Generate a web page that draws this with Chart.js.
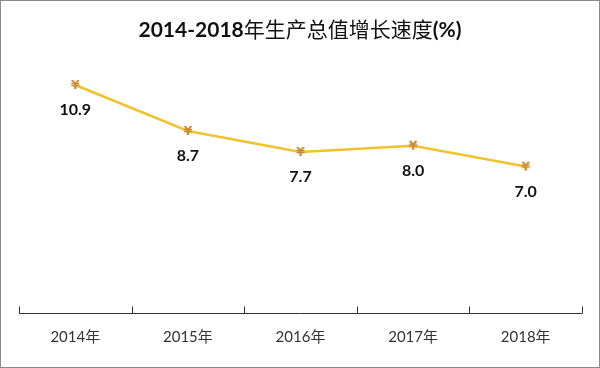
<!DOCTYPE html>
<html>
<head>
<meta charset="utf-8">
<script src="https://cdn.jsdelivr.net/npm/chart.js@4.4.0/dist/chart.umd.min.js"></script>
<style>
  html, body { margin: 0; padding: 0; background: #fff; }
  #wrap { width: 600px; height: 368px; }
</style>
</head>
<body>
<div id="wrap"><canvas id="growthChart" width="600" height="368"></canvas></div>
<script>
// chart data
const years = ['2014年', '2015年', '2016年', '2017年', '2018年'];
const growthRates = [10.9, 8.7, 7.7, 8.0, 7.0];
const titleParts = [['2014-2018', true], ['年生产总值增长速度', false], ['(%)', true]];

const latin = 'Lato, "Noto Sans CJK SC", sans-serif';

// the little yen marker used for points
function makeYenMarker() {
    const c = document.createElement('canvas');
    c.width = 16;
    c.height = 16;
    const g = c.getContext('2d');
    g.fillStyle = '#c98a35';
    g.font = 'bold 13px "DejaVu Sans", sans-serif';
    g.textAlign = 'center';
    g.textBaseline = 'middle';
    g.fillText('¥', 8, 8.5);
    return c;
}

// title (mixed weight), value labels, frame and upward ticks
const extrasPlugin = {
    id: 'extras',
    afterDatasetsDraw(chart) {
        const ctx = chart.ctx;
        const meta = chart.getDatasetMeta(0);
        ctx.save();
        ctx.fillStyle = '#111';
        ctx.font = 'bold 16px ' + latin;
        ctx.textAlign = 'center';
        ctx.textBaseline = 'middle';
        meta.data.forEach((pt, i) => {
            ctx.fillText(growthRates[i].toFixed(1), pt.x, pt.y + 25);
        });
        ctx.restore();
    },
    afterDraw(chart) {
        const ctx = chart.ctx;
        const xs = chart.scales.x;
        ctx.save();

        // title
        const fonts = titleParts.map(p => (p[1] ? 'bold ' : '') + '21px ' + latin);
        let total = 0;
        const widths = titleParts.map((p, i) => {
            ctx.font = fonts[i];
            const w = ctx.measureText(p[0]).width;
            total += w;
            return w;
        });
        let tx = chart.width / 2 - total / 2;
        ctx.fillStyle = '#111';
        ctx.textBaseline = 'middle';
        ctx.textAlign = 'left';
        titleParts.forEach((p, i) => {
            ctx.font = fonts[i];
            ctx.fillText(p[0], tx, 30);
            tx += widths[i];
        });

        // axis line with upward ticks
        ctx.strokeStyle = '#333';
        ctx.lineWidth = 1;
        const step = (xs.right - xs.left) / years.length;
        const y = Math.round(xs.top) + 0.5;
        ctx.beginPath();
        ctx.moveTo(xs.left, y);
        ctx.lineTo(xs.right, y);
        for (let i = 0; i <= years.length; i++) {
            const x = Math.round(xs.left + i * step) + 0.5;
            ctx.moveTo(x, y);
            ctx.lineTo(x, y - 7);
        }
        ctx.stroke();

        ctx.strokeStyle = '#8a8a8a';
        ctx.strokeRect(0.5, 0.5, chart.width - 1, chart.height - 1);
        ctx.restore();
    }
};

const ctx = document.getElementById('growthChart').getContext('2d');
new Chart(ctx, {
    type: 'line',
    data: {
        labels: years,
        datasets: [{
            data: growthRates,
            borderColor: '#f2c12e',
            borderWidth: 2.5,
            pointStyle: makeYenMarker(),
            pointRadius: 6,
            tension: 0
        }]
    },
    options: {
        responsive: false,
        animation: false,
        layout: { padding: { left: 19, right: 18, top: 62, bottom: 15 } },
        plugins: {
            legend: { display: false },
            tooltip: { enabled: false },
            title: { display: false }
        },
        scales: {
            x: {
                offset: true,
                grid: { display: false },
                border: { display: false },
                ticks: {
                    color: '#333',
                    padding: 7,
                    font: { family: latin, size: 15 }
                }
            },
            y: {
                display: false,
                min: 0,
                max: 12
            }
        }
    },
    plugins: [extrasPlugin]
});
</script>
</body>
</html>
